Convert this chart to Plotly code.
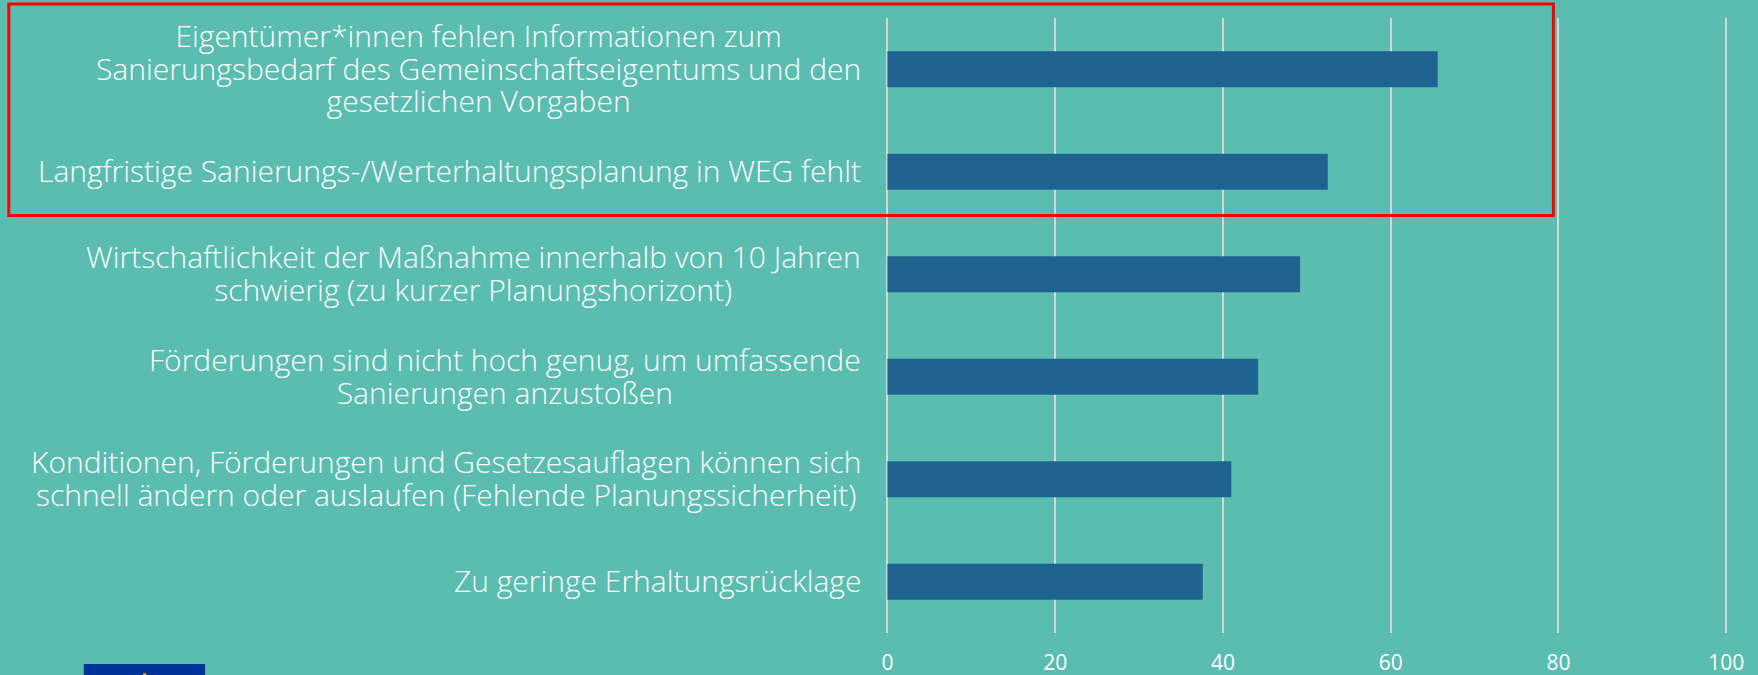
import plotly.graph_objects as go

categories = [
    "Eigentümer*innen fehlen Informationen zum<br>Sanierungsbedarf des Gemeinschaftseigentums und den<br>gesetzlichen Vorgaben",
    "Langfristige Sanierungs-/Werterhaltungsplanung in WEG fehlt",
    "Wirtschaftlichkeit der Maßnahme innerhalb von 10 Jahren<br>schwierig (zu kurzer Planungshorizont)",
    "Förderungen sind nicht hoch genug, um umfassende<br>Sanierungen anzustoßen",
    "Konditionen, Förderungen und Gesetzesauflagen können sich<br>schnell ändern oder auslaufen (Fehlende Planungssicherheit)",
    "Zu geringe Erhaltungsrücklage",
]
values = [65.6, 52.5, 49.2, 44.2, 41.0, 37.6]
x_ticks = [0, 20, 40, 60, 80, 100]

W, H = 1758, 675
PX = 8.397
X0 = 887.0
L, R, T, B = X0 - PX, X0 + 102 * PX, 18, 633
BG = "#5ABDAF"


def px(v):
    return (v - L) / (R - L)


def py(v):
    return (B - v) / (B - T)


fig = go.Figure(go.Bar(
    x=values, y=categories, orientation="h", width=0.35,
    marker=dict(color="#1F6390", line=dict(width=0)), hoverinfo="skip",
))
for cat in categories:
    styled = "<br>".join('<span style="font-size:30px">%s</span>' % ln for ln in cat.split("<br>"))
    fig.add_annotation(
        x=0, y=cat, xref="x", yref="y", text=styled, showarrow=False,
        xanchor="right", xshift=-24, yshift=1, align="center",
        font=dict(family="Open Sans", size=25, color="white", weight=300),
    )
# red highlight frame
fig.add_shape(type="rect", xref="paper", yref="paper",
              x0=px(7.5), x1=px(1553.7), y0=py(215.5), y1=py(4),
              line=dict(color="#FF0000", width=3), layer="above")
# logo fragment at the bottom edge
fig.add_shape(type="rect", xref="paper", yref="paper",
              x0=px(82.5), x1=px(204), y0=py(680), y1=py(664),
              fillcolor="#003399", line=dict(width=0), layer="above")
fig.add_shape(type="rect", xref="paper", yref="paper",
              x0=px(142), x1=px(145), y0=py(678), y1=py(673),
              fillcolor="#C9A82A", line=dict(width=0), layer="above")

fig.update_layout(
    width=W, height=H, autosize=False,
    paper_bgcolor=BG, plot_bgcolor=BG, showlegend=False,
    margin=dict(l=L, r=W - R, t=T, b=H - B, autoexpand=False),
    bargap=0.65,
    xaxis=dict(range=[-1, 102], tickvals=x_ticks, ticks="", showline=False, zeroline=False,
               showgrid=True, gridcolor="#D4D9D6", gridwidth=2, ticklabelstandoff=15,
               tickfont=dict(family="Open Sans", size=21, color="white")),
    yaxis=dict(range=[5.5, -0.5], showticklabels=False, ticks="", showline=False,
               zeroline=False, showgrid=False),
)
fig.write_html("out.html", config={"displayModeBar": False},
               post_script="document.body.style.margin='0';document.body.style.overflow='hidden';document.body.style.background='%s';" % BG)
